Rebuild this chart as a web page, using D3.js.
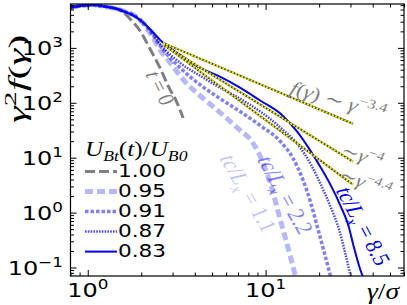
<!DOCTYPE html>
<html>
<head>
<meta charset="utf-8">
<script src="https://cdn.jsdelivr.net/npm/d3@7"></script>
<style>
  body { margin: 0; background: #fff; }
</style>
</head>
<body>
<div id="chart"></div>
<script>
// ---- data ----
const legendLabels = ["1.00", "0.95", "0.91", "0.87", "0.83"];

const gamma100 = [0.80, 0.90, 1.05, 1.25, 1.52, 1.73, 1.97, 2.24, 2.55, 2.83, 3.18, 3.44];
const f100     = [5450, 5800, 6050, 5680, 4900, 3370, 2040, 960, 432, 204, 100, 53];

const gamma095 = [0.80, 0.90, 1.05, 1.25, 1.52, 1.97, 2.24, 2.55, 2.91, 3.53, 4.29, 5.57, 7.22, 8.23, 9.13, 10.0, 11.1, 12.0, 13.0, 14.0, 14.8];
const f095     = [5450, 5800, 6050, 5680, 4910, 3230, 1870, 920, 533, 241, 134, 65.8, 31, 21.2, 12.3, 6.05, 2.12, 0.81, 0.32, 0.13, 0.065];

const gamma091 = [0.80, 0.90, 1.05, 1.25, 1.52, 1.97, 2.24, 2.55, 3.31, 4.29, 5.57, 7.22, 9.37, 12.15, 14.2, 16.2, 18.0, 19.7, 21.5, 23.3];
const f091     = [5450, 5800, 6050, 5680, 4910, 3230, 2040, 1090, 432, 212, 118, 68.6, 38.2, 19.5, 10.0, 3.98, 1.45, 0.50, 0.175, 0.065];

const gamma087 = [0.80, 0.90, 1.05, 1.25, 1.52, 1.97, 2.24, 2.55, 3.31, 4.29, 5.57, 7.22, 9.37, 12.15, 15.2, 18.0, 20.45, 23.3, 25.9, 27.9, 30.2];
const f087     = [5450, 5800, 6050, 5680, 4910, 3230, 2120, 1180, 533, 310, 187, 118, 68.6, 35.1, 17.2, 7.46, 3.23, 1.23, 0.49, 0.195, 0.065];

const gamma083 = [0.80, 0.90, 1.05, 1.25, 1.52, 1.97, 2.24, 2.55, 3.31, 4.29, 5.57, 7.22, 9.37, 12.15, 15.2, 18.0, 20.45, 23.3, 26.5, 29.1, 31.4, 33.5, 35.3];
const f083     = [5450, 5800, 6050, 5680, 4910, 3230, 2215, 1400, 746, 432, 297, 187, 109, 63, 28.5, 12.9, 6.58, 3.10, 1.29, 0.605, 0.231, 0.109, 0.066];

// power-law guide lines (end points)
const fitGamma  = [2.65, 31];
const fit34     = [1230, 41.5];
const fit4      = [1150, 8.45];
const fit44     = [1166, 3.23];

const xTickValues = [1, 10];
const yTickValues = [0.1, 1, 10, 100, 1000];

// ---- setup ----
const width = 407, height = 305;
const SX = 1.2; // the picture's text is stretched sideways

const x = d3.scaleLog().domain([0.8, 60]).range([70.5, 404]);
const y = d3.scaleLog().domain([0.07, 6300]).range([276, 4]);

const svg = d3.select("#chart").append("svg")
  .attr("width", width)
  .attr("height", height);

svg.append("clipPath").attr("id", "clip")
  .append("rect")
  .attr("x", 70.5).attr("y", 4)
  .attr("width", 404 - 70.5).attr("height", 276 - 4);

// math-ish text: parts are [string, kind], kind: i, r, i_, r_, i^, r^
function mathText(parent, parts, opts) {
  const size = opts.size;
  const sx = opts.sx != null ? opts.sx : SX;
  const g = parent.append("g")
    .attr("transform", `translate(${opts.x},${opts.y}) scale(${sx},1) rotate(${opts.rotate || 0}) scale(${opts.stretch || 1},1)`);
  const t = g.append("text")
    .attr("font-family", opts.family || "'Liberation Serif', 'DejaVu Serif', serif")
    .attr("font-size", size)
    .attr("fill", opts.color || "#000")
    .attr("text-anchor", opts.anchor || "middle")
    .attr("y", opts.dy != null ? opts.dy : size * 0.32);
  let shift = 0;
  parts.forEach(([str, kind]) => {
    const sup = kind.endsWith("^"), sub = kind.endsWith("_");
    const target = sup ? -0.42 * size : sub ? 0.25 * size : 0;
    const ts = t.append("tspan")
      .text(str)
      .attr("dy", target - shift)
      .attr("font-style", kind[0] === "i" ? "italic" : "normal");
    if (sup || sub) ts.attr("font-size", size * 0.7);
    shift = target;
  });
  return t;
}

const plot = svg.append("g").attr("clip-path", "url(#clip)");

const line = d3.line()
  .x(d => x(d[0]))
  .y(d => y(d[1]))
  .curve(d3.curveMonotoneX);

const series = [
  { g: gamma100, f: f100, color: "#808080", w: 3, dash: "10 4" },
  { g: gamma095, f: f095, color: "rgba(0,0,255,0.28)", w: 5, dash: "8 4" },
  { g: gamma091, f: f091, color: "rgba(0,0,255,0.5)", w: 3.5, dash: "3.5 2" },
  { g: gamma087, f: f087, color: "rgba(0,0,255,0.7)", w: 2.5, dash: "1.6 1.2" },
  { g: gamma083, f: f083, color: "#0000ff", w: 2, dash: null }
];

series.forEach(s => {
  plot.append("path")
    .datum(d3.zip(s.g, s.f))
    .attr("fill", "none")
    .attr("stroke", s.color)
    .attr("stroke-width", s.w)
    .attr("stroke-dasharray", s.dash)
    .attr("d", line);
});

// guide lines: dark line with yellow dots
const straight = d3.line().x(d => x(d[0])).y(d => y(d[1]));
[fit34, fit4, fit44].forEach(fv => {
  const pts = d3.zip(fitGamma, fv);
  plot.append("path").datum(pts)
    .attr("fill", "none").attr("stroke", "#444")
    .attr("stroke-width", 2)
    .attr("d", straight);
  plot.append("path").datum(pts)
    .attr("fill", "none").attr("stroke", "#f2f200")
    .attr("stroke-width", 2)
    .attr("stroke-dasharray", "2 1.4")
    .attr("d", straight);
});

// ---- axes (ticks inward on all sides) ----
const xMinor = x.ticks().filter(v => !xTickValues.includes(v));
const yMinor = y.ticks().filter(v => !yTickValues.includes(v) && v > 0.07 && v < 6300);

function addAxis(axis, tf) {
  svg.append("g").attr("transform", tf).call(axis)
    .call(g => g.select(".domain").remove())
    .call(g => g.selectAll("text").remove())
    .call(g => g.selectAll("line").attr("stroke", "#000"));
}
addAxis(d3.axisBottom(x).tickValues(xTickValues).tickSize(-6), "translate(0,276)");
addAxis(d3.axisBottom(x).tickValues(xMinor).tickSize(-3.5), "translate(0,276)");
addAxis(d3.axisTop(x).tickValues(xTickValues).tickSize(-6), "translate(0,4)");
addAxis(d3.axisTop(x).tickValues(xMinor).tickSize(-3.5), "translate(0,4)");
addAxis(d3.axisLeft(y).tickValues(yTickValues).tickSize(-6), "translate(70.5,0)");
addAxis(d3.axisLeft(y).tickValues(yMinor).tickSize(-3.5), "translate(70.5,0)");
addAxis(d3.axisRight(y).tickValues(yTickValues).tickSize(-6), "translate(404,0)");
addAxis(d3.axisRight(y).tickValues(yMinor).tickSize(-3.5), "translate(404,0)");

svg.append("rect")
  .attr("x", 70.5).attr("y", 4)
  .attr("width", 404 - 70.5).attr("height", 276 - 4)
  .attr("fill", "none").attr("stroke", "#000").attr("stroke-width", 1.2);

const sans = "'DejaVu Sans', sans-serif";
yTickValues.forEach(v => {
  const e = Math.round(Math.log10(v));
  mathText(svg, [["10", "r"], [String(e).replace("-", "\u2212"), "r^"]],
    { x: 63, y: y(v) + 1, size: 20, anchor: "end", family: sans });
});
xTickValues.forEach(v => {
  const e = Math.round(Math.log10(v));
  mathText(svg, [["10", "r"], [String(e), "r^"]],
    { x: x(v), y: 297, size: 20, anchor: "middle", family: sans, dy: 0 });
});

// axis titles
mathText(svg, [["\u03b3", "i"], ["2", "r^"], ["f", "i"], ["(", "r"], ["\u03b3", "i"], [")", "r"]],
  { x: 18, y: 123, size: 25, rotate: -90, stretch: 1.7, sx: 1, anchor: "start" });
mathText(svg, [["\u03b3", "i"], ["/", "r"], ["\u03c3", "i"]],
  { x: 383, y: 299, size: 23, dy: 0 });

// ---- annotations ----
const gray = "#7f7f7f";
mathText(svg, [["t", "i"], [" = 0", "r"]], { x: 160, y: 88, size: 19, rotate: 67, color: gray });
mathText(svg, [["f", "i"], ["(", "r"], ["\u03b3", "i"], [")", "r"], [" \u223c ", "r"], ["\u03b3", "i"], ["\u22123.4", "r^"]],
  { x: 338, y: 101, size: 19, rotate: 19, color: gray });
mathText(svg, [["\u223c", "r"], ["\u03b3", "i"], ["\u22124", "r^"]],
  { x: 362, y: 156, size: 18, rotate: 22, color: gray });
mathText(svg, [["\u223c", "r"], ["\u03b3", "i"], ["\u22124.4", "r^"]],
  { x: 365, y: 183, size: 18, rotate: 24, color: gray });

const tcParts = v => [["tc", "i"], ["/", "r"], ["L", "i"], ["x", "i_"], [" = " + v, "r"]];
mathText(svg, tcParts("1.1"), { x: 248, y: 193, size: 20, rotate: 64, color: "rgba(0,0,255,0.25)" });
mathText(svg, tcParts("2.2"), { x: 285, y: 195, size: 20, rotate: 65, color: "rgba(0,0,255,0.5)" });
mathText(svg, tcParts("8.5"), { x: 363, y: 226, size: 20, rotate: 66, color: "#0000ff" });

// ---- legend ----
mathText(svg, [["U", "i"], ["Bt", "i_"], ["(", "r"], ["t", "i"], [")/", "r"], ["U", "i"], ["B0", "i_"]],
  { x: 85, y: 156, size: 21, anchor: "start", dy: 0 });

legendLabels.forEach((lab, i) => {
  const cy = 171.6 + i * 20;
  const s = series[i];
  svg.append("line")
    .attr("x1", 85).attr("x2", 117)
    .attr("y1", cy).attr("y2", cy)
    .attr("stroke", s.color)
    .attr("stroke-width", s.w)
    .attr("stroke-dasharray", s.dash);
  mathText(svg, [[lab, "r"]], { x: 118, y: cy, size: 18, anchor: "start", family: sans });
});
</script>
</body>
</html>
